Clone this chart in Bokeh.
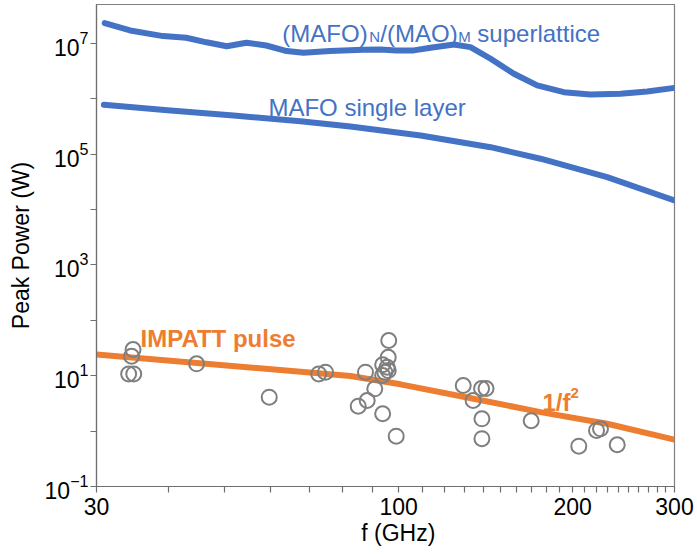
import math
from bokeh.plotting import figure
from bokeh.models import Label, FixedTicker, Range1d
from bokeh.embed import file_html
from bokeh.resources import INLINE

# ---- data ----
sl_f = [31.0, 34.3, 39.1, 42.9, 46.5, 50.4, 54.5, 59.0, 64.0, 68.4, 76.0, 86.8, 93.0,
        99.1, 106.2, 113.5, 124.6, 133.1, 144.2, 158.2, 173.6, 193.0, 214.6, 241.9, 269.1, 300]
sl_p = [2.33e7, 1.72e7, 1.36e7, 1.27e7, 1.05e7, 8.9e6, 1.03e7, 9.2e6, 7.3e6, 6.8e6, 7.3e6,
        7.7e6, 7.8e6, 7.5e6, 7.5e6, 8.4e6, 9.6e6, 8.6e6, 5.3e6, 2.84e6, 1.75e6, 1.32e6,
        1.20e6, 1.24e6, 1.36e6, 1.58e6]

single_f = [30.9, 39.8, 51.8, 67.6, 82.5, 109.1, 144.2, 175.9, 229.4, 300]
single_p = [7.8e5, 6.2e5, 5.0e5, 3.95e5, 3.17e5, 2.18e5, 1.34e5, 8.3e4, 3.85e4, 1.46e4]

impatt_f = [30, 82.5, 100.7, 134.8, 175.9, 229.4, 300]
impatt_p = [24.2, 9.9, 7.0, 3.84, 2.2, 1.36, 0.70]

pts_f = [34.7, 34.5, 34.1, 34.8, 44.7, 59.7, 72.7, 74.7, 96.1, 95.9, 93.8, 95.5, 94.6, 95.9,
         93.8, 87.6, 90.9, 88.2, 85.1, 93.8, 99.0, 129.3, 139.1, 141.6, 134.5, 139.3, 139.3,
         169.5, 204.9, 219.9, 223.4, 238.8]
pts_p = [29.8, 22.5, 10.8, 10.8, 16.4, 4.10, 10.8, 11.6, 43.3, 21.6, 15.8, 14.3, 11.6, 12.4,
         10.1, 11.6, 5.81, 3.57, 2.82, 2.06, 0.81, 6.67, 5.89, 5.89, 3.57, 1.67, 0.73, 1.54,
         0.535, 1.03, 1.10, 0.567]

x_major = [30, 100, 200, 300]
x_minor = [40, 50, 60, 70, 80, 90, 110, 120, 130, 140, 150, 160, 170, 180, 190,
           210, 220, 230, 240, 250, 260, 270, 280, 290]
y_major = [1e-1, 1e1, 1e3, 1e5, 1e7]
y_minor = [1e0, 1e2, 1e4, 1e6]

BLUE = "#4472C4"
ORANGE = "#ED7D31"
GRAY = "#7f7f7f"
AX = "#6e6e6e"
FONT = "Liberation Sans"

W, H = 695, 556
p = figure(width=W, height=H, x_axis_type="log", y_axis_type="log",
           x_range=Range1d(30, 300), y_range=Range1d(0.1, 10 ** 7.704),
           output_backend="svg", toolbar_location=None,
           min_border_left=96, min_border_right=21, min_border_top=4, min_border_bottom=70)
p.grid.visible = False
p.outline_line_color = GRAY
p.outline_line_width = 1.2
p.background_fill_color = "white"
p.border_fill_color = "white"

for ax in (p.xaxis[0], p.yaxis[0]):
    ax.axis_line_color = AX
    ax.axis_line_width = 1.2
    ax.major_tick_line_color = AX
    ax.minor_tick_line_color = AX
    ax.major_tick_line_width = 1.2
    ax.minor_tick_line_width = 1.2
    ax.major_tick_in = 0
    ax.major_tick_out = 6
    ax.minor_tick_in = 0
    ax.minor_tick_out = 6
    ax.major_label_text_font = FONT
    ax.major_label_text_font_size = "23px"
    ax.major_label_text_color = "black"
    ax.axis_label_text_font = FONT
    ax.axis_label_text_font_size = "23px"
    ax.axis_label_text_font_style = "normal"
    ax.axis_label_text_color = "black"

p.xaxis.ticker = FixedTicker(ticks=x_major, minor_ticks=x_minor)
p.yaxis.ticker = FixedTicker(ticks=y_major, minor_ticks=y_minor)
p.xaxis.major_label_standoff = 5
p.yaxis.major_label_standoff = 2

p.yaxis.axis_label = "Peak Power (W)"
p.yaxis.axis_label_standoff = 8
p.xaxis.axis_label = "\u00a0\u00a0\u00a0\u00a0f (GHz)"
p.xaxis.axis_label_standoff = 2

# ---- series ----
p.line(sl_f, sl_p, line_color=BLUE, line_width=6, line_cap="round", line_join="round")
p.line(single_f, single_p, line_color=BLUE, line_width=6, line_cap="round", line_join="round")
p.line(impatt_f, impatt_p, line_color=ORANGE, line_width=6, line_join="round")
p.scatter(pts_f, pts_p, marker="circle", size=15, fill_color=None,
          line_color=GRAY, line_width=2)

# ---- text annotations ----
def lab(x, y, text, size="24px", color=BLUE, style="normal", xo=0, yo=0, **kw):
    p.add_layout(Label(x=x, y=y, text=text, text_font=FONT, text_font_size=size,
                       text_color=color, text_font_style=style, x_offset=xo, y_offset=yo,
                       text_baseline="alphabetic", **kw))

# superlattice label with subscripts
lab(62.9, 1.535e7, "(MAFO)")
lab(62.9, 1.535e7, "N", size="15px", xo=87, yo=-3)
lab(62.9, 1.535e7, "/(MAO)", xo=98)
lab(62.9, 1.535e7, "M", size="15px", xo=176, yo=-3)
lab(62.9, 1.535e7, "superlattice", xo=195)

lab(59.5, 6.9e5, "MAFO single layer")
lab(35.75, 46.5, "IMPATT pulse", color=ORANGE, style="bold")
lab(177.3, 3.33, "1/f", color=ORANGE, style="bold")
lab(177.3, 3.33, "2", size="15px", color=ORANGE, style="bold", xo=28, yo=9)

open("out.html", "w").write(file_html(p, INLINE))
